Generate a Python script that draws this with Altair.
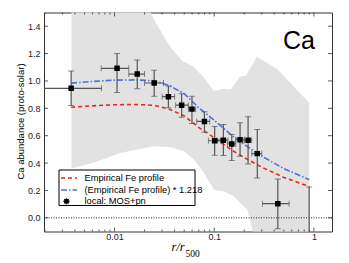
import altair as alt
import pandas as pd

# ---- data ----
# Gray band (range)
band_x = [0.0037, 0.0060, 0.0115, 0.0200, 0.0248, 0.0339, 0.0366, 0.0479, 0.0497, 0.0604,
          0.0627, 0.0789, 0.0995, 0.1254, 0.1465, 0.158, 0.1817, 0.212, 0.2157, 0.244,
          0.267, 0.431, 0.897]
band_lo = [0.36, 0.40, 0.474, 0.51, 0.523, 0.518, 0.515, 0.49, 0.486, 0.435,
           0.425, 0.328, 0.205, 0.193, 0.17, 0.156, 0.11, 0.065, 0.059, -0.1,
           -0.15, -0.15, -0.15]
band_hi = [1.6, 1.6, 1.6, 1.6, 1.45, 1.281, 1.244, 1.146, 1.14, 1.109,
           1.10, 1.024, 0.926, 0.943, 0.938, 0.97, 1.031, 1.041, 1.06, 1.12,
           1.178, 1.085, 0.841]

# Model curves
curve_x = [0.00367, 0.006, 0.01, 0.016, 0.025, 0.035, 0.05, 0.07, 0.1, 0.15, 0.2, 0.3, 0.5, 0.9]
fe_profile = [0.808, 0.818, 0.826, 0.828, 0.822, 0.795, 0.745, 0.66, 0.585, 0.495, 0.44, 0.37, 0.295, 0.229]
fe_scaled = [0.984, 0.996, 1.006, 1.008, 1.001, 0.968, 0.907, 0.804, 0.713, 0.603, 0.536, 0.451, 0.359, 0.279]

# Measurements (local: MOS+pn)
pt_x = [0.00367, 0.0106, 0.0169, 0.0250, 0.0347, 0.0471, 0.0598, 0.0798, 0.101, 0.1236,
        0.150, 0.1817, 0.2187, 0.2705, 0.4347, 0.897]
pt_y = [0.946, 1.092, 1.05, 0.985, 0.885, 0.823, 0.794, 0.704, 0.563, 0.567,
        0.540, 0.570, 0.567, 0.469, 0.103, -0.35]
pt_ylo = [0.82, 0.916, 0.943, 0.889, 0.804, 0.735, 0.689, 0.625, 0.457, 0.455,
          0.418, 0.449, 0.393, 0.291, -0.08, -0.9]
pt_yhi = [1.072, 1.20, 1.153, 1.078, 0.963, 0.907, 0.889, 0.775, 0.667, 0.682,
          0.609, 0.694, 0.738, 0.645, 0.284, 0.225]
pt_xlo = [0.001, 0.00735, 0.0139, 0.0200, 0.0301, 0.0410, 0.0551, 0.0667, 0.0875, 0.1076,
          0.136, 0.1644, 0.2003, 0.238, 0.305, 0.897]
pt_xhi = [0.0074, 0.0139, 0.0200, 0.0310, 0.0401, 0.0551, 0.0652, 0.0901, 0.1155, 0.1374,
          0.1644, 0.2003, 0.238, 0.300, 0.565, 0.897]

x_major = [0.01, 0.1, 1]
x_minor = [0.002, 0.003, 0.004, 0.005, 0.006, 0.007, 0.008, 0.009,
           0.02, 0.03, 0.04, 0.05, 0.06, 0.07, 0.08, 0.09,
           0.2, 0.3, 0.4, 0.5, 0.6, 0.7, 0.8, 0.9]
y_major = [0.0, 0.2, 0.4, 0.6, 0.8, 1.0, 1.2, 1.4]

legend_labels = ["Empirical Fe profile", "(Empirical Fe profile) * 1.218", "local: MOS+pn"]

W, H = 288, 219
FONT = "Liberation Sans"

band_df = pd.DataFrame({"x": band_x, "lo": band_lo, "hi": band_hi})
curve_df = pd.DataFrame({"x": curve_x, "fe": fe_profile, "fes": fe_scaled})
pt_df = pd.DataFrame({"x": pt_x, "y": pt_y, "ylo": pt_ylo, "yhi": pt_yhi,
                      "xlo": pt_xlo, "xhi": pt_xhi})
main_pts = pt_df.iloc[:-1]

xs = alt.Scale(type="log", domain=[0.00196, 1.52], nice=False)
ys = alt.Scale(domain=[-0.1, 1.5], nice=False, zero=False)

xaxis = alt.Axis(values=x_major, labelExpr="datum.value < 0.05 ? '0.01' : datum.value < 0.5 ? '0.1' : '1'",
                 ticks=False, tickSize=0, domain=False, grid=False, title=None, labelOverlap=False,
                 labelFont=FONT, labelFontSize=9, labelColor="#222", labelPadding=1)
yaxis = alt.Axis(values=y_major, format=".1f", ticks=False, tickSize=0, domain=False, grid=False,
                 title=None, labelOverlap=False,
                 labelFont=FONT, labelFontSize=9, labelColor="#222", labelPadding=4)


def X(f):
    return alt.X(f, scale=xs, axis=xaxis)


def Y(f):
    return alt.Y(f, scale=ys, axis=yaxis)


band = alt.Chart(band_df).mark_area(color="#e2e2e2", clip=True).encode(
    x=X("x:Q"), y=Y("lo:Q"), y2="hi:Q")

zero = alt.Chart(pd.DataFrame({"y": [0.0]})).mark_rule(
    color="#222", strokeDash=[1, 1.5], strokeWidth=1).encode(y=Y("y:Q"))

red = alt.Chart(curve_df).mark_line(color="#e8251e", strokeDash=[4, 3], strokeWidth=1.6, clip=True).encode(
    x=X("x:Q"), y=Y("fe:Q"))
blue = alt.Chart(curve_df).mark_line(color="#4a72de", strokeDash=[6, 2, 1.5, 2], strokeWidth=1.6, clip=True).encode(
    x=X("x:Q"), y=Y("fes:Q"))

EB = "#555555"
ebar_y = alt.Chart(pt_df).mark_rule(color=EB, strokeWidth=1.2, clip=True).encode(
    x=X("x:Q"), y=Y("ylo:Q"), y2="yhi:Q")
ebar_x = alt.Chart(main_pts).mark_rule(color=EB, strokeWidth=1.2, clip=True).encode(
    x=X("xlo:Q"), x2="xhi:Q", y=Y("y:Q"))
cap_ylo = alt.Chart(pt_df).mark_tick(color=EB, orient="horizontal", size=6, thickness=1, clip=True).encode(
    x=X("x:Q"), y=Y("ylo:Q"))
cap_yhi = alt.Chart(pt_df).mark_tick(color=EB, orient="horizontal", size=6, thickness=1, clip=True).encode(
    x=X("x:Q"), y=Y("yhi:Q"))
cap_xlo = alt.Chart(main_pts).mark_tick(color=EB, orient="vertical", size=6, thickness=1, clip=True).encode(
    x=X("xlo:Q"), y=Y("y:Q"))
cap_xhi = alt.Chart(main_pts).mark_tick(color=EB, orient="vertical", size=6, thickness=1, clip=True).encode(
    x=X("xhi:Q"), y=Y("y:Q"))
points = alt.Chart(main_pts).mark_square(color="black", size=30, opacity=1, clip=True).encode(
    x=X("x:Q"), y=Y("y:Q"))

# inward ticks on all four sides
TC = "#333"
xmaj_df = pd.DataFrame({"v": x_major})
xmin_df = pd.DataFrame({"v": x_minor})
ymaj_df = pd.DataFrame({"v": y_major})
ticks = []
for df, ln in ((xmaj_df, 4), (xmin_df, 2)):
    ticks.append(alt.Chart(df).mark_rule(color=TC, strokeWidth=0.8).encode(
        x=X("v:Q"), y=alt.value(H), y2=alt.value(H - ln)))
    ticks.append(alt.Chart(df).mark_rule(color=TC, strokeWidth=0.8).encode(
        x=X("v:Q"), y=alt.value(0), y2=alt.value(ln)))
ticks.append(alt.Chart(ymaj_df).mark_rule(color=TC, strokeWidth=0.8).encode(
    y=Y("v:Q"), x=alt.value(0), x2=alt.value(4)))
ticks.append(alt.Chart(ymaj_df).mark_rule(color=TC, strokeWidth=0.8).encode(
    y=Y("v:Q"), x=alt.value(W), x2=alt.value(W - 4)))

one = pd.DataFrame({"a": [0]})

ca_text = alt.Chart(one).mark_text(text="Ca", font=FONT, fontSize=25, align="center",
                                   baseline="alphabetic", color="black").encode(
    x=alt.value(255), y=alt.value(36))
ytitle = alt.Chart(one).mark_text(text="Ca abundance (proto-solar)", font=FONT, fontSize=9.5,
                                  angle=270, align="center", baseline="middle", color="black").encode(
    x=alt.value(-23), y=alt.value(109))
xt1 = alt.Chart(one).mark_text(text="r/r", font="Liberation Serif", fontStyle="italic", fontSize=12.5,
                               align="left", baseline="alphabetic", color="black").encode(
    x=alt.value(127.5), y=alt.value(238))
xt2 = alt.Chart(one).mark_text(text="500", font="Liberation Serif", fontSize=9.5,
                               align="left", baseline="alphabetic", color="black").encode(
    x=alt.value(141.5), y=alt.value(244.5))

# legend box
leg_box = alt.Chart(one).mark_rect(fill="white", stroke="black", strokeWidth=1).encode(
    x=alt.value(15), x2=alt.value(151), y=alt.value(157.5), y2=alt.value(193))
leg_red = alt.Chart(one).mark_rule(color="#e8251e", strokeDash=[4, 3], strokeWidth=1.6).encode(
    x=alt.value(17), x2=alt.value(33), y=alt.value(165.5))
leg_blue = alt.Chart(one).mark_rule(color="#4a72de", strokeDash=[6, 2, 1.5, 2], strokeWidth=1.6).encode(
    x=alt.value(17), x2=alt.value(33), y=alt.value(177.5))
leg_ev = alt.Chart(one).mark_rule(color=EB, strokeWidth=1.2).encode(
    x=alt.value(22.5), y=alt.value(185.5), y2=alt.value(192))
leg_eh = alt.Chart(one).mark_rule(color=EB, strokeWidth=1.2).encode(
    x=alt.value(19), x2=alt.value(26), y=alt.value(188.8))
leg_pt = alt.Chart(one).mark_square(color="black", size=22, opacity=1).encode(
    x=alt.value(22.5), y=alt.value(188.8))
leg_rows = [165.5, 177.5, 188.8]
leg_texts = [
    alt.Chart(one).mark_text(text=lab, font=FONT, fontSize=9.3, align="left", baseline="middle",
                             color="black").encode(x=alt.value(40.5), y=alt.value(yy))
    for lab, yy in zip(legend_labels, leg_rows)
]

chart = alt.layer(
    band, zero, red, blue, ebar_y, ebar_x, cap_ylo, cap_yhi, cap_xlo, cap_xhi, points,
    *ticks, ca_text, ytitle, xt1, xt2,
    leg_box, leg_red, leg_blue, leg_ev, leg_eh, leg_pt, *leg_texts,
).properties(
    width=W, height=H,
    autosize=alt.AutoSizeParams(type="none"),
    padding={"left": 36, "top": 4.5, "right": 8, "bottom": 31},
    background="white",
).configure_view(stroke="#333", strokeWidth=1)

chart.save("out.html", embed_options={"renderer": "svg", "actions": False})
